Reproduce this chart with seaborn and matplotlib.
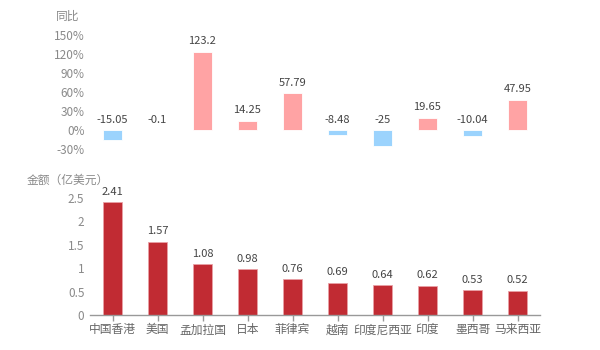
import matplotlib
matplotlib.use("Agg")
import matplotlib.pyplot as plt
import seaborn as sns
import numpy as np

countries = ["中国香港", "美国", "孟加拉国", "日本", "菲律宾", "越南", "印度尼西亚", "印度", "墨西哥", "马来西亚"]
yoy = [-15.05, -0.1, 123.2, 14.25, 57.79, -8.48, -25, 19.65, -10.04, 47.95]
amount = [2.41, 1.57, 1.08, 0.98, 0.76, 0.69, 0.64, 0.62, 0.53, 0.52]
yoy_ticks = [-30, 0, 30, 60, 90, 120, 150]
amt_ticks = [0, 0.5, 1, 1.5, 2, 2.5]

sns.set_theme(style="white")
plt.rcParams['font.family'] = ['Noto Sans CJK SC', 'DejaVu Sans']
plt.rcParams['axes.unicode_minus'] = False

POS = "#FFA3A4"
NEG = "#9BD3FD"
RED = "#C12B33"
GRAY = "#8a8a8a"
TXT = "#444444"

fig = plt.figure(figsize=(6, 3.5), dpi=100)
ax1 = fig.add_axes([0.15, 0.574, 0.75, 0.326])
ax2 = fig.add_axes([0.15, 0.1, 0.75, 0.334])

colors = [POS if v >= 0 else NEG for v in yoy]
sns.barplot(x=countries, y=yoy, hue=countries, palette=colors, legend=False,
            ax=ax1, width=0.44, edgecolor="white", linewidth=0.6, saturation=1)
ax1.set_ylim(-30, 150)
ax1.set_yticks(yoy_ticks)
ax1.set_yticklabels([f"{t}%" for t in yoy_ticks])
ax1.set_xticks([])
ax1.set_xlim(-0.5, len(countries) - 0.5)
for s in ax1.spines.values():
    s.set_visible(False)
ax1.tick_params(axis='y', colors=GRAY, labelsize=8.5, length=0, pad=4)
for i, v in enumerate(yoy):
    ax1.annotate(f"{v:g}", (i, max(v, 0)), xytext=(0, 4), textcoords="offset points",
                 ha="center", va="bottom", fontsize=8, color=TXT)
ax1.set_ylabel("")
fig.text(0.133, 0.935, "同比", ha="right", va="bottom", fontsize=8.5, color=GRAY)

sns.barplot(x=countries, y=amount, color=RED, ax=ax2, width=0.44,
            edgecolor="#E9A0A6", linewidth=0.6, saturation=1)
ax2.set_ylim(0, 2.5)
ax2.set_yticks(amt_ticks)
ax2.set_yticklabels([f"{t:g}" for t in amt_ticks])
ax2.set_xlim(-0.5, len(countries) - 0.5)
for k in ["top", "right", "left"]:
    ax2.spines[k].set_visible(False)
ax2.spines["bottom"].set_color("#999999")
ax2.spines["bottom"].set_linewidth(1)
ax2.tick_params(axis='y', colors=GRAY, labelsize=8.5, length=0, pad=4)
ax2.tick_params(axis='x', colors="#999999", labelcolor="#666666", labelsize=8.5,
                length=4, width=1, direction="out", bottom=True, pad=2)
for i, v in enumerate(amount):
    ax2.annotate(f"{v:g}", (i, v), xytext=(0, 4), textcoords="offset points",
                 ha="center", va="bottom", fontsize=8, color=TXT)
ax2.set_ylabel("")
fig.text(0.045, 0.465, "金额（亿美元）", ha="left", va="bottom", fontsize=8.5, color=GRAY)

fig.savefig("out.png", dpi=100)
